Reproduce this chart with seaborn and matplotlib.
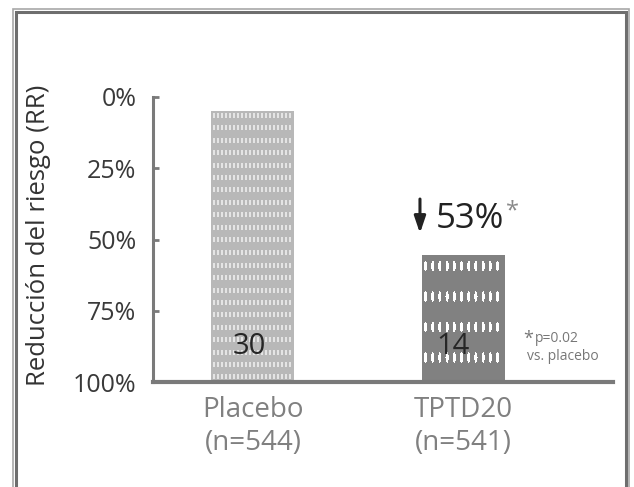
import numpy as np
import pandas as pd
import matplotlib
matplotlib.use("Agg")
import matplotlib.pyplot as plt
from matplotlib.patches import Rectangle
import seaborn as sns

# Data
groups = ["Placebo", "TPTD20"]
n_sizes = [544, 541]
fractures = [30, 14]
reduction_label = "53%"
p_value = "p=0.02"
p_ref = "vs. placebo"
rr_ticks = ["100%", "75%", "50%", "25%", "0%"]

axis_top = 31.5  # count scale reached at the 0% tick

sns.set_theme(style="white")
plt.rcParams["font.family"] = ["Open Sans", "DejaVu Sans"]

W, H = 634, 487
fig = plt.figure(figsize=(W / 100, H / 100), dpi=100)
ax = fig.add_axes([153 / W, 1 - 382 / H, (613 - 153) / W, (382 - 97) / H])

df = pd.DataFrame({
    "grupo": [f"{g}\n(n={n})" for g, n in zip(groups, n_sizes)],
    "fracturas": fractures,
})
bar_colors = ["#b8b8b8", "#818181"]
sns.barplot(data=df, x="grupo", y="fracturas", hue="grupo", palette=bar_colors,
            width=0.395, ax=ax, legend=False, saturation=1, linewidth=0)

ax.set_xlim(-0.476, 1.714)
ax.set_ylim(0, axis_top)
ax.set_yticks(np.linspace(0, axis_top, 5))
ax.set_yticklabels(rr_ticks, fontsize=18, color="#3a3a3a")
ax.set_xlabel("")
ax.set_ylabel("Reducción del riesgo (RR)", fontsize=18.5, color="#333333")
ax.yaxis.set_label_coords(-0.222, 0.516)
ax.tick_params(axis="y", direction="in", length=4, width=2, color="#7a7a7a", pad=12, left=True)
ax.tick_params(axis="x", length=0, pad=10, labelsize=20, labelcolor="#808080")
for lab in ax.get_xticklabels():
    lab.set_linespacing(1.25)

for side in ["top", "right"]:
    ax.spines[side].set_visible(False)
ax.spines["left"].set_color("#7a7a7a")
ax.spines["left"].set_linewidth(2.2)
ax.spines["bottom"].set_color("#7a7a7a")
ax.spines["bottom"].set_linewidth(3)
ax.spines["bottom"].set_zorder(5)

# Fill textures inside each bar, built at pixel resolution
fig.canvas.draw()
renderer = fig.canvas.get_renderer()
bars = list(ax.patches)


def placebo_texture(h, w):
    base = np.array([184, 184, 184, 255]) / 255
    dash = np.array([228, 228, 228, 255]) / 255
    arr = np.tile(base, (h, w, 1))
    r = 3.0
    while r < h - 4:
        ri = int(round(r))
        for c in range(2, w - 1, 4):
            arr[ri:ri + 5, c:c + 2] = dash
        r += 12.4
    return arr


def tptd_texture(h, w):
    base = np.array([129, 129, 129, 255]) / 255
    hole = np.array([255, 255, 255, 255]) / 255
    arr = np.tile(base, (h, w, 1))
    yy, xx = np.mgrid[0:h, 0:w] + 0.5
    cy = 11.0
    while cy < h:
        cx = 3.5
        while cx < w - 1:
            m = ((xx - cx) / 1.6) ** 2 + ((yy - cy) / 5.2) ** 2 <= 1
            arr[m] = hole
            cx += 7.2
        cy += 30.5
    return arr


for bar, make in zip(bars, [placebo_texture, tptd_texture]):
    bb = bar.get_window_extent(renderer)
    h, w = int(round(bb.height)), int(round(bb.width))
    tex = make(h, w)
    x0, y0 = bar.get_x(), bar.get_y()
    im = ax.imshow(tex, extent=(x0, x0 + bar.get_width(), y0, y0 + bar.get_height()),
                   interpolation="nearest", aspect="auto", zorder=3)
    im.set_clip_path(bar)

ax.set_xlim(-0.476, 1.714)
ax.set_ylim(0, axis_top)

# Counts written inside the bars
for i, (v, dx) in enumerate(zip(fractures, [-0.017, -0.048])):
    ax.text(i + dx, 0.126 * axis_top, str(v), ha="center", va="center",
            fontsize=21, color="#262626", zorder=6)

# Relative risk reduction over the treatment bar
ax.annotate("", xy=(0.795, 0.522 * axis_top), xytext=(0.795, 0.642 * axis_top),
            arrowprops=dict(arrowstyle="-|>,head_length=0.5,head_width=0.17",
                            lw=2.2, color="#222222", shrinkA=0, shrinkB=0,
                            mutation_scale=20))
rr = ax.text(0.872, 0.572 * axis_top, reduction_label, ha="left", va="center",
             fontsize=25, color="#222222")
ax.annotate("*", xy=(1, 0.72), xycoords=rr, xytext=(1, 0), textcoords="offset points",
            ha="left", va="center", fontsize=17, color="#8a8a8a")

# Significance footnote
ax.text(1.288, 0.152 * axis_top, "*", ha="left", va="center", fontsize=13, color="#777777")
ax.text(1.343, 0.154 * axis_top, p_value, ha="left", va="center", fontsize=10, color="#777777")
ax.text(1.305, 0.088 * axis_top, p_ref, ha="left", va="center", fontsize=10, color="#777777")

# Double frame around the figure
fig.add_artist(Rectangle((12.5 / W, -0.05), (629 - 12.5) / W, 1 - 8.5 / H + 0.05,
                         transform=fig.transFigure, fill=False, edgecolor="#a8a8a8",
                         linewidth=1.2))
fig.add_artist(Rectangle((15.5 / W, -0.05), (625.5 - 15.5) / W, 1 - 11.5 / H + 0.05,
                         transform=fig.transFigure, fill=False, edgecolor="#6e6e6e",
                         linewidth=2.2))

fig.savefig("out.png", dpi=100)
